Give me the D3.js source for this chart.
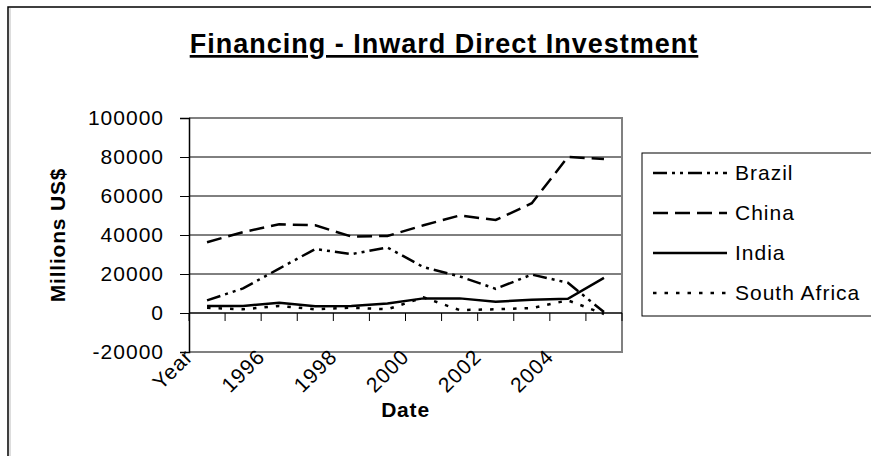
<!DOCTYPE html>
<html>
<head>
<meta charset="utf-8">
<script src="https://cdn.jsdelivr.net/npm/d3@7"></script>
<style>
  body { margin: 0; background: #fff; }
  svg { display: block; font-family: 'Liberation Sans', Arial, sans-serif; }
</style>
</head>
<body>
<svg width="871" height="456"></svg>
<script>
// categories as they appear on the sheet (first row is the header "Year")
const categories = ['Year', '1995', '1996', '1997', '1998', '1999', '2000', '2001', '2002', '2003', '2004', '2005'];
const tickLabels = ['Year', '1996', '1998', '2000', '2002', '2004'];
const yTicks = [-20000, 0, 20000, 40000, 60000, 80000, 100000];

const brazil = [6500, 12600, 22800, 32800, 30200, 33600, 23500, 18800, 12400, 19700, 15500, 500];
const china = [36300, 41500, 45500, 45000, 39200, 39500, 45000, 50000, 47700, 56300, 80000, 79000];
const india = [3600, 3600, 5300, 3500, 3600, 4900, 7500, 7500, 5800, 6800, 7300, 18000];
const southAfrica = [2700, 1900, 3600, 1900, 2700, 1900, 8000, 1500, 1900, 2500, 6500, -500];

const seriesNames = ['Brazil', 'China', 'India', 'South Africa'];
const seriesValues = [brazil, china, india, southAfrica];
const dashes = ['14,5,3,5,3,5', '15,7', null, '3.5,8'];

let svg, x, y, plot;

function setSVG() {
  svg = d3.select('svg');
  plot = { left: 189, right: 622, top: 118, bottom: 352 };

  x = d3.scaleBand().domain(categories).range([plot.left, plot.right]);
  y = d3.scaleLinear().domain([-20000, 100000]).range([plot.bottom, plot.top]);

  // chart area border (right and bottom edges fall outside the picture)
  svg.append('rect')
    .attr('x', 8).attr('y', 7)
    .attr('width', 900).attr('height', 500)
    .attr('fill', 'none')
    .attr('stroke', '#000')
    .attr('stroke-width', 1.5);
  svg.append('line')
    .attr('x1', 10).attr('x2', 10)
    .attr('y1', 8).attr('y2', 456)
    .attr('stroke', '#bbb');

  svg.append('text')
    .attr('x', 444)
    .attr('y', 53)
    .attr('text-anchor', 'middle')
    .style('font-size', '27px')
    .style('font-weight', 'bold')
    .style('letter-spacing', '1px')
    .style('text-decoration', 'underline')
    .text('Financing - Inward Direct Investment');
}

function setGrid() {
  svg.append('g')
    .attr('class', 'grid')
    .selectAll('line')
    .data(yTicks.filter(function (d) { return d > 0 && d < 100000; }))
    .enter()
    .append('line')
    .attr('x1', plot.left).attr('x2', plot.right)
    .attr('y1', function (d) { return y(d); })
    .attr('y2', function (d) { return y(d); })
    .attr('stroke', '#000')
    .attr('stroke-width', 1);

  // plot area frame: grey top, right, bottom
  svg.append('path')
    .attr('d', 'M' + plot.left + ',' + plot.top + 'H' + plot.right + 'V' + plot.bottom + 'H' + plot.left)
    .attr('fill', 'none')
    .attr('stroke', '#808080')
    .attr('stroke-width', 2);
}

function setYAxis() {
  const yAxis = svg.append('g')
    .attr('class', 'y-axis axis')
    .attr('transform', 'translate(' + plot.left + ',0)')
    .call(d3.axisLeft(y).tickValues(yTicks).tickSize(9).tickPadding(16)
      .tickFormat(function (d) { return String(d); }));
  yAxis.select('.domain').attr('stroke', '#000').attr('stroke-width', 1.5);
  yAxis.selectAll('text')
    .attr('fill', '#000')
    .style('font-size', '21px')
    .style('letter-spacing', '1px');
  yAxis.selectAll('.tick line').attr('stroke', '#000');

  svg.append('text')
    .attr('transform', 'translate(65,' + (plot.top + plot.bottom) / 2 + ') rotate(-90)')
    .attr('text-anchor', 'middle')
    .style('font-size', '21px')
    .style('font-weight', 'bold')
    .style('letter-spacing', '0.8px')
    .text('Millions US$');
}

function setXAxis() {
  // category axis sits on the zero line, ticks between categories
  const xAxis = svg.append('g').attr('class', 'x-axis axis');
  xAxis.append('line')
    .attr('x1', plot.left).attr('x2', plot.right)
    .attr('y1', y(0)).attr('y2', y(0))
    .attr('stroke', '#000').attr('stroke-width', 1.5);
  xAxis.selectAll('.tk')
    .data(categories.concat(['end']))
    .enter()
    .append('line')
    .attr('class', 'tk')
    .attr('x1', function (d, i) { return plot.left + i * x.bandwidth(); })
    .attr('x2', function (d, i) { return plot.left + i * x.bandwidth(); })
    .attr('y1', y(0)).attr('y2', y(0) + 8)
    .attr('stroke', '#000');

  // labels sit low, under the plot area
  const idx = categories.map(function (d, i) { return i; })
    .filter(function (i) { return i % 2 === 0; });
  xAxis.selectAll('.lbl')
    .data(idx)
    .enter()
    .append('text')
    .attr('class', 'lbl')
    .attr('text-anchor', 'end')
    .attr('transform', function (i) {
      return 'translate(' + (x(categories[i]) + x.bandwidth() / 2 - 13) + ',358) rotate(-45)';
    })
    .style('font-size', '21px')
    .style('letter-spacing', '1px')
    .text(function (i, k) { return tickLabels[k]; });

  svg.append('text')
    .attr('x', (plot.left + plot.right) / 2)
    .attr('y', 417)
    .attr('text-anchor', 'middle')
    .style('font-size', '21px')
    .style('font-weight', 'bold')
    .style('letter-spacing', '0.8px')
    .text('Date');
}

function setLines() {
  const line = d3.line()
    .x(function (d, i) { return x(categories[i]) + x.bandwidth() / 2; })
    .y(function (d) { return y(d); });

  svg.append('g')
    .selectAll('path')
    .data(seriesValues)
    .enter()
    .append('path')
    .attr('d', line)
    .attr('fill', 'none')
    .attr('stroke', '#000')
    .attr('stroke-width', 2.5)
    .attr('stroke-dasharray', function (d, i) { return dashes[i]; });
}

function setLegend() {
  const legend = svg.append('g').attr('class', 'legend');
  legend.append('rect')
    .attr('x', 642).attr('y', 153)
    .attr('width', 300).attr('height', 163)
    .attr('fill', '#fff')
    .attr('stroke', '#000')
    .attr('stroke-width', 1);

  const rows = legend.selectAll('.row')
    .data(seriesNames)
    .enter()
    .append('g')
    .attr('class', 'row')
    .attr('transform', function (d, i) { return 'translate(0,' + (173 + i * 40) + ')'; });

  rows.append('line')
    .attr('x1', 653).attr('x2', 727)
    .attr('stroke', '#000')
    .attr('stroke-width', 2.5)
    .attr('stroke-dasharray', function (d, i) { return dashes[i]; });

  rows.append('text')
    .attr('x', 735)
    .attr('dy', '0.35em')
    .style('font-size', '21px')
    .style('letter-spacing', '1px')
    .text(function (d) { return d; });
}

setSVG();
setGrid();
setLines();
setYAxis();
setXAxis();
setLegend();
</script>
</body>
</html>
